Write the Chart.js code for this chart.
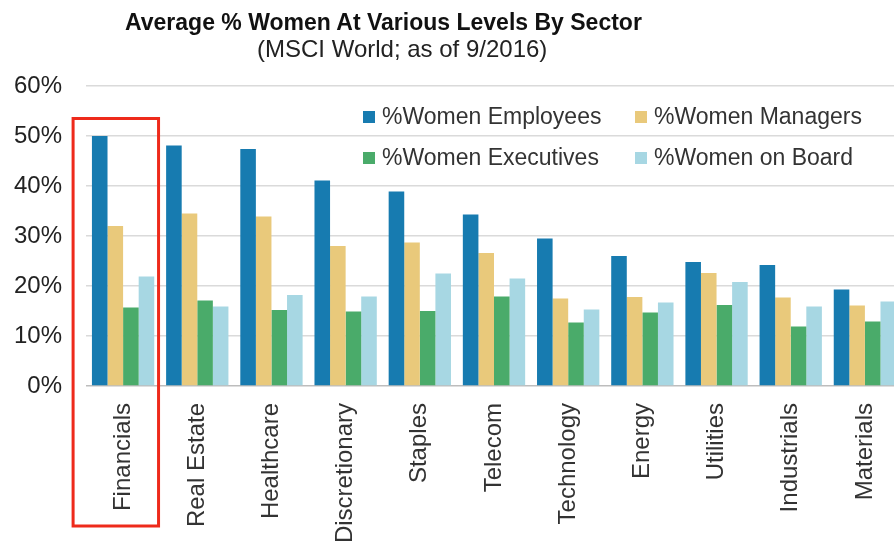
<!DOCTYPE html>
<html>
<head>
<meta charset="utf-8">
<script src="https://cdn.jsdelivr.net/npm/chart.js@4.4.0/dist/chart.umd.min.js"></script>
<style>
  html, body { margin: 0; padding: 0; background: #fff; overflow: hidden; width: 894px; height: 548px; }
  #wrap { position: relative; width: 910px; height: 600px; }
  .title { position: absolute; white-space: nowrap; font-family: 'Liberation Sans', Arial, sans-serif; line-height: normal; }
  #t1 { left: 125px; top: 9px; font-size: 23px; font-weight: bold; color: #111; }
  #t2 { left: 257px; top: 35px; font-size: 24px; color: #222; }
</style>
</head>
<body>
<div id="wrap">
  <canvas id="chart"></canvas>
  <div class="title" id="t1">Average % Women At Various Levels By Sector</div>
  <div class="title" id="t2">(MSCI World; as of 9/2016)</div>
</div>
<script>
// data
const sectors = ['Financials', 'Real Estate', 'Healthcare', 'Discretionary', 'Staples', 'Telecom',
                 'Technology', 'Energy', 'Utilities', 'Industrials', 'Materials'];
const employees  = [50.0, 48.1, 47.4, 41.1, 38.9, 34.3, 29.5, 26.0, 24.8, 24.2, 19.3];
const managers   = [32.0, 34.5, 33.9, 28.0, 28.7, 26.6, 17.5, 17.8, 22.6, 17.7, 16.1];
const executives = [15.7, 17.1, 15.2, 14.9, 15.0, 17.9, 12.7, 14.7, 16.2, 11.9, 12.9];
const board      = [21.9, 15.9, 18.2, 17.9, 22.5, 21.5, 15.3, 16.7, 20.8, 15.9, 16.9];
const yTicks = [0, 10, 20, 30, 40, 50, 60];

const FONT = "'Liberation Sans', Arial, sans-serif";
Chart.defaults.font.family = FONT;

// two-column legend sitting inside the plot, like the original
const boxLegend = {
    id: 'boxLegend',
    afterDatasetsDraw(chart) {
        const { ctx, chartArea } = chart;
        ctx.save();
        ctx.font = '23px ' + FONT;
        ctx.textBaseline = 'middle';
        chart.data.datasets.forEach((ds, i) => {
            const col = i % 2, row = Math.floor(i / 2);
            const x = chartArea.left + 277 + col * 272;
            const y = chartArea.top + 31 + row * 41;
            ctx.fillStyle = ds.backgroundColor;
            ctx.fillRect(x, y - 6, 12, 12);
            ctx.fillStyle = '#333';
            ctx.fillText(ds.label, x + 19, y + 1);
        });
        ctx.restore();
    }
};

// red box around the first sector
const highlight = {
    id: 'highlight',
    afterDraw(chart) {
        const { ctx } = chart;
        const xs = chart.scales.x, ys = chart.scales.y;
        const cw = xs.width / sectors.length;
        const cx = xs.getPixelForValue(0);
        const left = cx - 0.674 * cw, right = cx + 0.478 * cw;
        const top = ys.getPixelForValue(53.5), bottom = ys.bottom + 140;
        ctx.save();
        ctx.strokeStyle = '#ee2a1b';
        ctx.lineWidth = 3;
        ctx.strokeRect(left, top, right - left, bottom - top);
        ctx.restore();
    }
};

new Chart(document.getElementById('chart'), {
    type: 'bar',
    data: {
        labels: sectors,
        datasets: [
            { label: '%Women Employees', data: employees, backgroundColor: '#177bb0' },
            { label: '%Women Managers', data: managers, backgroundColor: '#e9c97b' },
            { label: '%Women Executives', data: executives, backgroundColor: '#4aab6a' },
            { label: '%Women on Board', data: board, backgroundColor: '#a7d7e3' }
        ]
    },
    options: {
        responsive: true,
        maintainAspectRatio: false,
        animation: false,
        categoryPercentage: 0.84,
        barPercentage: 1,
        layout: { padding: { top: 86, right: 8, left: 0, bottom: 0 } },
        plugins: {
            legend: { display: false },
            tooltip: { enabled: false }
        },
        scales: {
            x: {
                grid: { display: false },
                border: { display: false },
                ticks: {
                    minRotation: 90, maxRotation: 90, autoSkip: false,
                    padding: 9, color: '#333', font: { size: 24 }
                },
                afterFit: s => { s.height = 214; }
            },
            y: {
                min: 0, max: 60,
                afterBuildTicks: s => { s.ticks = yTicks.map(v => ({ value: v })); },
                ticks: { padding: 24, color: '#222', font: { size: 24 }, callback: v => v + '%' },
                grid: {
                    drawTicks: false,
                    lineWidth: 1.5,
                    color: c => c.tick && c.tick.value === 0 ? '#bdbdbd' : '#dadada'
                },
                border: { display: false },
                afterFit: s => { s.width = 86; }
            }
        }
    },
    plugins: [boxLegend, highlight]
});
</script>
</body>
</html>
